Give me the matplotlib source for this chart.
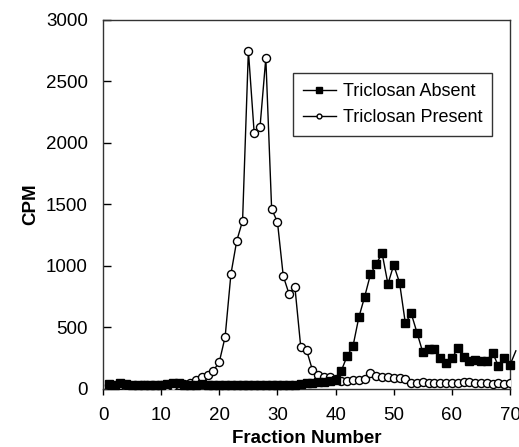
import matplotlib
matplotlib.use("Agg")
import matplotlib.pyplot as plt
import numpy as np

plt.rcParams['font.family'] = ['Liberation Sans', 'DejaVu Sans']

fractions = list(range(1, 71))

absent_cpm = [40, 35, 45, 40, 35, 30, 35, 30, 30, 30,
              40, 50, 45, 35, 30, 35, 40, 35, 30, 30,
              35, 30, 30, 35, 30, 30, 35, 30, 30, 35,
              30, 30, 35, 40, 45, 50, 55, 60, 65, 70,
              150, 270, 350, 583, 750, 932, 1019, 1103, 854, 1008,
              864, 534, 615, 458, 298, 322, 322, 249, 208, 249,
              330, 263, 228, 236, 228, 228, 295, 187, 249, 195]
# Excel-style line continuing past the right edge
absent_extra_fraction = 71
absent_extra_cpm = 310

present_cpm = [30, 28, 35, 30, 25, 28, 30, 25, 28, 30,
               25, 28, 30, 40, 50, 73, 98, 114, 150, 220,
               423, 935, 1205, 1366, 2750, 2080, 2130, 2690, 1463, 1358,
               918, 772, 829, 345, 317, 157, 114, 100, 95, 85,
               65, 65, 70, 72, 81, 127, 108, 100, 95, 92,
               86, 78, 46, 46, 59, 50, 50, 50, 50, 50,
               50, 55, 60, 50, 45, 45, 40, 45, 40, 46]

x_ticks = [0, 10, 20, 30, 40, 50, 60, 70]
y_ticks = [0, 500, 1000, 1500, 2000, 2500, 3000]

fig = plt.figure(figsize=(5.19, 4.47), dpi=100)
ax = fig.add_axes([0.1985, 0.1298, 0.7842, 0.8255])

ax.plot(fractions, present_cpm, color='black', lw=1.0, marker='o', ms=5.8,
        mfc='white', mec='black', mew=1.0, label='Triclosan Present', zorder=3)
ax.plot(fractions + [absent_extra_fraction], absent_cpm + [absent_extra_cpm],
        color='black', lw=1.0, marker='s', ms=6.3, mfc='black', mec='black',
        markevery=list(range(len(fractions))), clip_on=False,
        label='Triclosan Absent', zorder=4)

ax.set_xlim(0, 70)
ax.set_ylim(0, 3000)
ax.set_xticks(x_ticks)
ax.set_yticks(y_ticks)
ax.tick_params(axis='x', direction='out', length=4, width=1, labelsize=13.5, pad=9)
ax.tick_params(axis='y', direction='in', length=6, width=1, labelsize=13.5, pad=11)
for s in ax.spines.values():
    s.set_linewidth(1.0)
    s.set_color('#333333')

ax.set_xlabel('Fraction Number', fontsize=13.5, fontweight='bold', labelpad=4)
ax.set_ylabel('CPM', fontsize=13.5, fontweight='bold', labelpad=5)

h, l = ax.get_legend_handles_labels()
leg = ax.legend(h[::-1], l[::-1], loc='upper left', bbox_to_anchor=(0.467, 0.856),
                borderaxespad=0, fontsize=13, frameon=True, fancybox=False,
                edgecolor='black', handlelength=1.8, handletextpad=0.4,
                borderpad=0.55, labelspacing=0.5, markerscale=0.6)
leg.get_frame().set_linewidth(1.0)

fig.savefig('out.png', dpi=100)
